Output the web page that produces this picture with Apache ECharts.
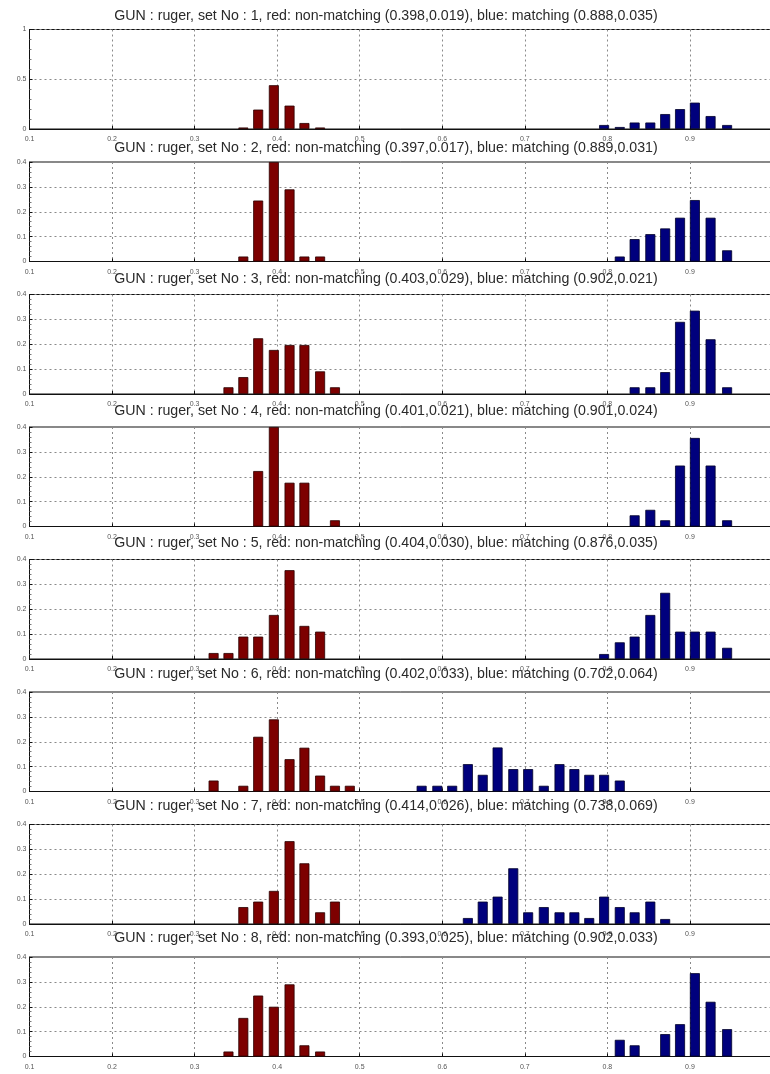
<!DOCTYPE html>
<html>
<head>
<meta charset="utf-8">
<script src="https://cdn.jsdelivr.net/npm/echarts@6/dist/echarts.min.js"></script>
<style>
  html, body { margin: 0; padding: 0; background: #fff; }
  #chart { width: 770px; height: 1074px; }
</style>
</head>
<body>
<div id="chart"></div>
<script>
// histogram bin centres
const redBins = [0.323, 0.341, 0.359, 0.377, 0.396, 0.415, 0.433, 0.452, 0.470, 0.488];
const blueBins = [0.575, 0.594, 0.612, 0.631, 0.649, 0.667, 0.686, 0.704, 0.723, 0.742, 0.760,
                  0.778, 0.796, 0.815, 0.833, 0.852, 0.870, 0.888, 0.906, 0.925, 0.945];

const setNo = [1, 2, 3, 4, 5, 6, 7, 8];
const redStats = ['(0.398,0.019)', '(0.397,0.017)', '(0.403,0.029)', '(0.401,0.021)',
                  '(0.404,0.030)', '(0.402,0.033)', '(0.414,0.026)', '(0.393,0.025)'];
const blueStats = ['(0.888,0.035)', '(0.889,0.031)', '(0.902,0.021)', '(0.901,0.024)',
                   '(0.876,0.035)', '(0.702,0.064)', '(0.738,0.069)', '(0.902,0.033)'];

// non-matching (red) frequencies per set, aligned with redBins
const redHist = [
  [0, 0, 0.015, 0.195, 0.44, 0.235, 0.06, 0.015, 0, 0],
  [0, 0, 0.02, 0.245, 0.4, 0.29, 0.02, 0.02, 0, 0],
  [0, 0.027, 0.068, 0.224, 0.177, 0.197, 0.197, 0.091, 0.027, 0],
  [0, 0, 0, 0.223, 0.4, 0.176, 0.176, 0, 0.025, 0],
  [0.024, 0.024, 0.09, 0.09, 0.177, 0.357, 0.133, 0.11, 0, 0],
  [0.044, 0, 0.023, 0.22, 0.29, 0.13, 0.176, 0.064, 0.023, 0.023],
  [0, 0, 0.068, 0.09, 0.133, 0.333, 0.244, 0.047, 0.09, 0],
  [0, 0.02, 0.155, 0.245, 0.2, 0.29, 0.045, 0.02, 0, 0]
];

// matching (blue) frequencies per set, aligned with blueBins
const blueHist = [
  [0, 0, 0, 0, 0, 0, 0, 0, 0, 0, 0, 0, 0.04, 0.02, 0.065, 0.065, 0.15, 0.2, 0.265, 0.13, 0.04],
  [0, 0, 0, 0, 0, 0, 0, 0, 0, 0, 0, 0, 0, 0.02, 0.09, 0.11, 0.133, 0.176, 0.247, 0.176, 0.045],
  [0, 0, 0, 0, 0, 0, 0, 0, 0, 0, 0, 0, 0, 0, 0.027, 0.027, 0.088, 0.29, 0.335, 0.22, 0.027],
  [0, 0, 0, 0, 0, 0, 0, 0, 0, 0, 0, 0, 0, 0, 0.045, 0.067, 0.025, 0.245, 0.356, 0.245, 0.025],
  [0, 0, 0, 0, 0, 0, 0, 0, 0, 0, 0, 0, 0.02, 0.067, 0.09, 0.177, 0.266, 0.11, 0.11, 0.11, 0.045],
  [0.023, 0.023, 0.023, 0.11, 0.067, 0.177, 0.09, 0.09, 0.023, 0.11, 0.09, 0.067, 0.067, 0.044, 0, 0, 0, 0, 0, 0, 0],
  [0, 0, 0, 0.024, 0.09, 0.11, 0.224, 0.047, 0.068, 0.047, 0.047, 0.024, 0.11, 0.068, 0.047, 0.09, 0.02, 0, 0, 0, 0],
  [0, 0, 0, 0, 0, 0, 0, 0, 0, 0, 0, 0, 0, 0.067, 0.045, 0, 0.09, 0.13, 0.335, 0.22, 0.11]
];

const xTicks = [0.1, 0.2, 0.3, 0.4, 0.5, 0.6, 0.7, 0.8, 0.9, 1.0];
const yTicksFirst = [0, 0.5, 1];
const yTicks = [0, 0.1, 0.2, 0.3, 0.4];

const chart = echarts.init(document.getElementById('chart'));

const FONT = '"Liberation Sans", Arial, sans-serif';
const gridLine = { show: true, lineStyle: { color: '#8a8a8a', type: [2, 3], width: 1 } };

const grids = [], xAxes = [], yAxes = [], titles = [], series = [];

const toPoints = (bins, vals) =>
  bins.map((b, k) => (vals[k] > 0 ? [b, vals[k]] : null)).filter(Boolean);

setNo.forEach((n, i) => {
  const top = 29.5 + 132.5 * i;
  const ticks = i === 0 ? yTicksFirst : yTicks;

  grids.push({
    left: 29.5, top: top, width: 743, height: 99.5,
    outerBoundsMode: 'none',
    show: true, borderColor: '#111', borderWidth: 1, backgroundColor: '#fff'
  });

  titles.push({
    text: 'GUN : ruger, set No : ' + n + ', red: non-matching ' + redStats[i] +
          ', blue: matching ' + blueStats[i],
    left: 381, top: 13 + 131.7 * i - 9, textAlign: 'center',
    textStyle: { fontFamily: FONT, fontSize: 14.2, fontWeight: 'normal', color: '#2a2a2a' }
  });

  xAxes.push({
    type: 'value', gridIndex: i,
    min: xTicks[0], max: xTicks[xTicks.length - 1], interval: 0.1,
    axisLine: { show: true, onZero: false, lineStyle: { color: '#111' } },
    axisTick: { show: true, inside: true, length: 3, lineStyle: { color: '#111' } },
    axisLabel: {
      fontFamily: FONT, fontSize: 7, color: '#555', margin: 7,
      formatter: v => String(Math.round(v * 10) / 10)
    },
    splitLine: gridLine
  });

  yAxes.push({
    type: 'value', gridIndex: i,
    min: ticks[0], max: ticks[ticks.length - 1], interval: ticks[1] - ticks[0],
    axisLine: { show: true, lineStyle: { color: '#111' } },
    axisTick: { show: true, inside: true, length: 3, lineStyle: { color: '#111' } },
    minorTick: { show: true, splitNumber: 5, length: 2, lineStyle: { color: '#777' } },
    axisLabel: {
      fontFamily: FONT, fontSize: 7, color: '#555', margin: 3,
      formatter: v => String(Math.round(v * 10) / 10)
    },
    splitLine: gridLine
  });

  series.push({
    name: 'non-matching', type: 'bar', xAxisIndex: i, yAxisIndex: i,
    barWidth: 10, barGap: '-100%',
    data: toPoints(redBins, redHist[i]),
    itemStyle: { color: '#7d0000', borderColor: '#2a0000', borderWidth: 0.8 }
  });
  series.push({
    name: 'matching', type: 'bar', xAxisIndex: i, yAxisIndex: i,
    barWidth: 10, barGap: '-100%',
    data: toPoints(blueBins, blueHist[i]),
    itemStyle: { color: '#00007d', borderColor: '#00002a', borderWidth: 0.8 }
  });
});

chart.setOption({
  animation: false,
  backgroundColor: '#fff',
  title: titles,
  grid: grids,
  xAxis: xAxes,
  yAxis: yAxes,
  series: series
});
</script>
</body>
</html>
